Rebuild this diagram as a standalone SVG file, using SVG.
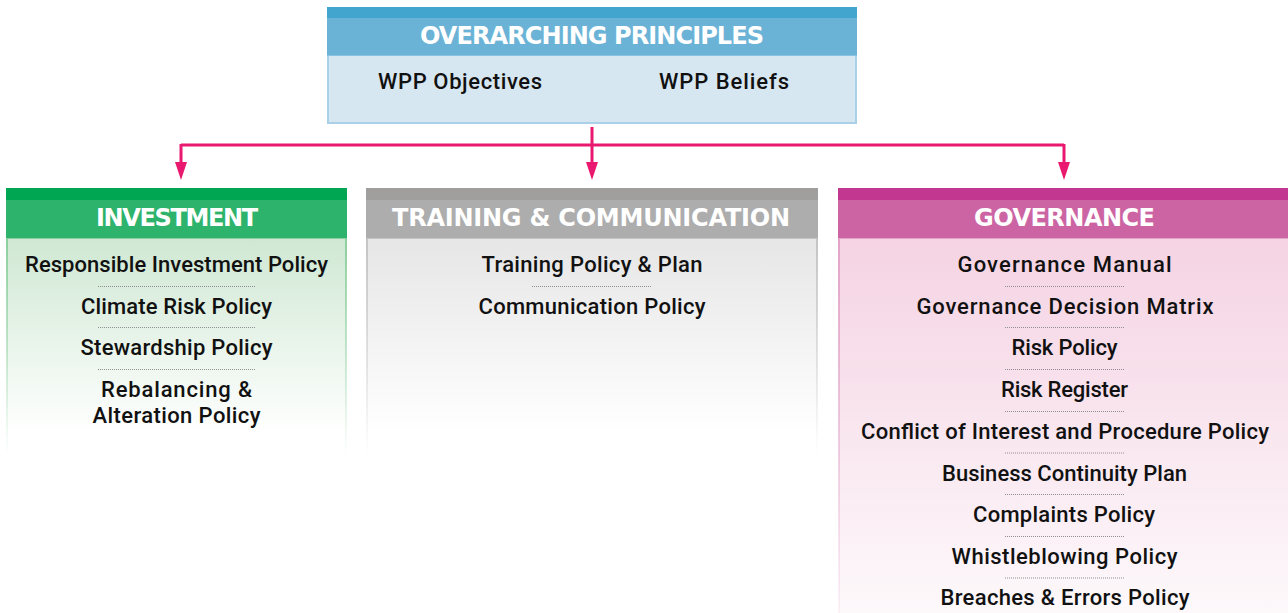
<svg xmlns="http://www.w3.org/2000/svg" width="1288" height="613" viewBox="0 0 1288 613">
  <style>
    .hdr { font-family: "DejaVu Sans", "Liberation Sans", Arial, sans-serif; font-weight: bold; font-size: 24px; fill: #ffffff; text-anchor: middle; }
    .item { font-family: Roboto, "Liberation Sans", Arial, sans-serif; font-weight: 500; font-size: 22px; fill: #111111; text-anchor: middle; }
    .sep { stroke: #8f8f8f; stroke-width: 1; stroke-dasharray: 1 1; fill: none; }
    .link { stroke: #e8196e; stroke-width: 3; fill: none; }
  </style>
  <defs>
    <marker id="arrow" markerUnits="userSpaceOnUse" markerWidth="18" markerHeight="12" viewBox="0 0 18 12" refX="8" refY="6" orient="auto">
      <path d="M0,0 L18,6 L0,12 z" fill="#e8196e"/>
    </marker>
    <linearGradient id="gInv" x1="0" y1="0" x2="0" y2="1">
      <stop offset="0" stop-color="#cfe8d3"/>
      <stop offset="0.9" stop-color="#ffffff"/>
    </linearGradient>
    <linearGradient id="gInvEdge" x1="0" y1="0" x2="0" y2="1">
      <stop offset="0" stop-color="#8ccf9e"/>
      <stop offset="1" stop-color="#8ccf9e" stop-opacity="0"/>
    </linearGradient>
    <linearGradient id="gTrn" x1="0" y1="0" x2="0" y2="1">
      <stop offset="0" stop-color="#e6e6e6"/>
      <stop offset="0.9" stop-color="#ffffff"/>
    </linearGradient>
    <linearGradient id="gTrnEdge" x1="0" y1="0" x2="0" y2="1">
      <stop offset="0" stop-color="#c4c4c4"/>
      <stop offset="1" stop-color="#c4c4c4" stop-opacity="0"/>
    </linearGradient>
    <linearGradient id="gGov" x1="0" y1="0" x2="0" y2="1">
      <stop offset="0" stop-color="#f5d3e3"/>
      <stop offset="1" stop-color="#fdf9fb"/>
    </linearGradient>
    <linearGradient id="gGovEdge" x1="0" y1="0" x2="0" y2="1">
      <stop offset="0" stop-color="#e2a3c7"/>
      <stop offset="1" stop-color="#e2a3c7" stop-opacity="0.1"/>
    </linearGradient>
  </defs>

  <rect width="1288" height="613" fill="#ffffff"/>

  <!-- connectors -->
  <g id="connectors">
    <path class="link" d="M181,145 H1064"/>
    <path class="link" d="M592,127 V170" marker-end="url(#arrow)"/>
    <path class="link" d="M181,144 V170" marker-end="url(#arrow)"/>
    <path class="link" d="M1064,144 V170" marker-end="url(#arrow)"/>
  </g>

  <!-- top box -->
  <g id="overarching-principles">
    <rect x="328" y="55" width="528" height="68" fill="#d7e7f2" stroke="#a9d0e8" stroke-width="2"/>
    <rect x="327" y="7" width="530" height="11" fill="#41a5ce"/>
    <rect x="327" y="18" width="530" height="37.5" fill="#6bb3d6"/>
    <text class="hdr" x="592" y="44" textLength="344">OVERARCHING PRINCIPLES</text>
    <text class="item" x="460" y="89" textLength="164">WPP Objectives</text>
    <text class="item" x="724" y="89" textLength="130">WPP Beliefs</text>
  </g>

  <!-- investment column -->
  <g id="investment">
    <rect x="7" y="238" width="339" height="218" fill="url(#gInv)" stroke="url(#gInvEdge)" stroke-width="2"/>
    <rect x="6" y="188" width="341" height="12" fill="#00a651"/>
    <rect x="6" y="200" width="341" height="38" fill="#2db36b"/>
    <text class="hdr" x="177" y="226" textLength="162">INVESTMENT</text>
    <text class="item" x="176.5" y="272" textLength="303">Responsible Investment Policy</text>
    <line class="sep" x1="98" y1="286.5" x2="255" y2="286.5"/>
    <text class="item" x="176.5" y="313.5" textLength="191">Climate Risk Policy</text>
    <line class="sep" x1="98" y1="327.5" x2="255" y2="327.5"/>
    <text class="item" x="176.5" y="355" textLength="192">Stewardship Policy</text>
    <line class="sep" x1="98" y1="369.5" x2="255" y2="369.5"/>
    <text class="item" x="176.5" y="397" textLength="151">Rebalancing &amp;</text>
    <text class="item" x="176.5" y="423" textLength="168">Alteration Policy</text>
  </g>

  <!-- training & communication column -->
  <g id="training-communication">
    <rect x="367" y="238" width="450" height="218" fill="url(#gTrn)" stroke="url(#gTrnEdge)" stroke-width="2"/>
    <rect x="366" y="188" width="452" height="12" fill="#a19f9e"/>
    <rect x="366" y="200" width="452" height="38" fill="#adadad"/>
    <text class="hdr" x="591" y="226" textLength="398">TRAINING &amp; COMMUNICATION</text>
    <text class="item" x="592" y="272" textLength="221">Training Policy &amp; Plan</text>
    <line class="sep" x1="532" y1="286.5" x2="652" y2="286.5"/>
    <text class="item" x="592" y="313.5" textLength="227">Communication Policy</text>
  </g>

  <!-- governance column -->
  <g id="governance">
    <rect x="839" y="238" width="452" height="380" fill="url(#gGov)" stroke="url(#gGovEdge)" stroke-width="2"/>
    <rect x="838" y="188" width="450" height="12" fill="#c2378f"/>
    <rect x="838" y="200" width="450" height="38" fill="#cc64a3"/>
    <text class="hdr" x="1064.5" y="226" textLength="181">GOVERNANCE</text>
    <text class="item" x="1064.5" y="272" textLength="214">Governance Manual</text>
    <line class="sep" x1="1005" y1="286.5" x2="1124" y2="286.5"/>
    <text class="item" x="1065" y="313.5" textLength="297">Governance Decision Matrix</text>
    <line class="sep" x1="1005" y1="327.5" x2="1124" y2="327.5"/>
    <text class="item" x="1064.5" y="355" textLength="106">Risk Policy</text>
    <line class="sep" x1="1005" y1="369.5" x2="1124" y2="369.5"/>
    <text class="item" x="1064.5" y="397" textLength="127">Risk Register</text>
    <line class="sep" x1="1005" y1="411.5" x2="1124" y2="411.5"/>
    <text class="item" x="1065" y="439" textLength="408">Conflict of Interest and Procedure Policy</text>
    <line class="sep" x1="1005" y1="453" x2="1124" y2="453"/>
    <text class="item" x="1064.5" y="480.5" textLength="245">Business Continuity Plan</text>
    <line class="sep" x1="1005" y1="494.5" x2="1124" y2="494.5"/>
    <text class="item" x="1064" y="522" textLength="182">Complaints Policy</text>
    <line class="sep" x1="1005" y1="536.5" x2="1124" y2="536.5"/>
    <text class="item" x="1064.5" y="564" textLength="226">Whistleblowing Policy</text>
    <line class="sep" x1="1005" y1="578" x2="1124" y2="578"/>
    <text class="item" x="1065" y="605" textLength="249">Breaches &amp; Errors Policy</text>
  </g>
</svg>
